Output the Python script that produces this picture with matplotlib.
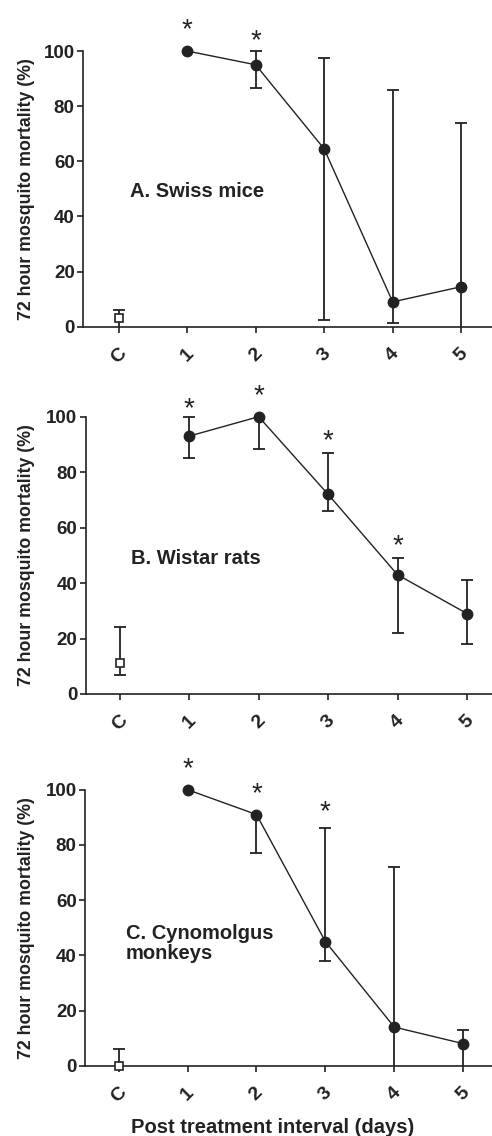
import matplotlib
matplotlib.use("Agg")
import matplotlib.pyplot as plt
import numpy as np

plt.rcParams['font.family'] = ['Liberation Sans', 'DejaVu Sans']
plt.rcParams['font.weight'] = 'bold'

days = ['C', '1', '2', '3', '4', '5']

# A. Swiss mice
mice_mean = [3, 100, 95, 64.5, 9, 14.5]
mice_low = [0, 100, 86.5, 2.5, 1.5, 0]
mice_high = [6, 100, 100, 97.5, 86, 74]
mice_star_x = [1, 2]
mice_star_y = [110.8, 106.8]

# B. Wistar rats
rats_mean = [11, 93, 100, 72, 43, 29]
rats_low = [7, 85, 88.5, 66, 22, 18]
rats_high = [24, 100, 100, 87, 49, 41]
rats_star_x = [1, 2, 3, 4]
rats_star_y = [106, 110.8, 94.4, 56.7]

# C. Cynomolgus monkeys
monk_mean = [0, 100, 91, 45, 14, 8]
monk_low = [0, 100, 77, 38, 0, 0]
monk_high = [6, 100, 91, 86, 72, 13]
monk_star_x = [1, 2, 3]
monk_star_y = [110.7, 101.7, 95.0]

panels = [
    ("A. Swiss mice", mice_mean, mice_low, mice_high, mice_star_x, mice_star_y),
    ("B. Wistar rats", rats_mean, rats_low, rats_high, rats_star_x, rats_star_y),
    ("C. Cynomolgus\nmonkeys", monk_mean, monk_low, monk_high, monk_star_x, monk_star_y),
]

# axes boxes in pixels: left, top, bottom ; and x limits
boxes = [(83, 51, 326.7, (-0.52, 5.45)),
         (85.7, 416.7, 694, (-0.49, 5.36)),
         (85, 789.7, 1065.7, (-0.49, 5.42))]
label_pos = [(0.16, 49), (0.16, 49), (0.10, 44.3)]

W, H = 492, 1136
fig = plt.figure(figsize=(W / 100, H / 100), dpi=100)
ink = '#222222'

for (title, mean, low, high, sx, sy), (l, t, b, xl), lp in zip(panels, boxes, label_pos):
    ax = fig.add_axes([l / W, 1 - b / H, 1 - l / W, (b - t) / H])
    x = np.arange(len(days))
    mean = np.array(mean, float)
    low = np.array(low, float)
    high = np.array(high, float)

    # error bars: caps only where a bar actually sticks out
    ax.vlines(x, low, high, color=ink, lw=1.3, clip_on=False, zorder=2)
    m = (low > 0) & (low < mean)
    ax.plot(x[m], low[m], ls='none', marker='_', ms=9, mew=1.3, color=ink, clip_on=False, zorder=2)
    m = high > mean
    ax.plot(x[m], high[m], ls='none', marker='_', ms=9, mew=1.3, color=ink, clip_on=False, zorder=2)

    ax.plot(x[1:], mean[1:], color=ink, lw=1.0, marker='o', ms=7.5, mfc=ink, mec=ink,
            clip_on=False, zorder=3)
    ax.plot(x[:1], mean[:1], ls='none', marker='s', ms=6, mfc='white', mec=ink, mew=1.2,
            clip_on=False, zorder=3)

    fs = 20
    for xi, yi in zip(sx, sy):
        ax.annotate('*', (xi, yi), xytext=(0, -0.58 * fs), textcoords='offset points',
                    ha='center', va='baseline', fontsize=fs, fontweight='normal',
                    color=ink, annotation_clip=False)

    ax.text(lp[0], lp[1], title, fontsize=14.5, fontweight='bold', color=ink,
            ha='left', va='center', linespacing=1.1)

    ax.set_xlim(*xl)
    ax.set_ylim(0, 100)
    ax.set_yticks([0, 20, 40, 60, 80, 100])
    ax.set_xticks(x)
    ax.set_xticklabels(days, rotation=45, ha='center')
    ax.tick_params(axis='both', labelsize=13.5, width=1.2, length=4, color=ink, labelcolor=ink)
    ax.tick_params(axis='x', pad=9, labelsize=14)
    ax.tick_params(axis='y', pad=2)
    for s in ['top', 'right']:
        ax.spines[s].set_visible(False)
    for s in ['left', 'bottom']:
        ax.spines[s].set_linewidth(1.2)
        ax.spines[s].set_color(ink)
    ax.set_ylabel('72 hour mosquito mortality (%)', fontsize=12.8, fontweight='bold', color=ink)
    ax.yaxis.set_label_coords((35 - l) / (W - l), 0.5)

fig.text(272.5 / W, 3 / H, 'Post treatment interval (days)', fontsize=14.5, fontweight='bold',
         color=ink, ha='center', va='baseline')

fig.savefig('out.png', dpi=100)
